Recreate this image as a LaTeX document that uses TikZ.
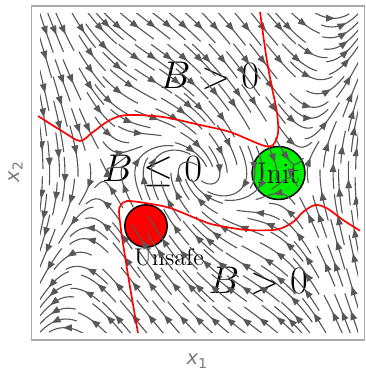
\documentclass[tikz,border=0pt]{standalone}
\usepackage{fontspec}
\usetikzlibrary{arrows.meta}
\newfontfamily\labelfont{DejaVu Sans}
\definecolor{initgreen}{RGB}{0,238,0}
\definecolor{unsafered}{RGB}{255,0,0}
\definecolor{streamgray}{RGB}{88,88,88}
\definecolor{framegray}{RGB}{170,170,170}
\definecolor{labelgray}{RGB}{120,120,120}

% streamlines of x1' = x2, x2' = -x1 + x1^3/3 - x2 on [-3,3]^2,
% pieces grown from seeds that spiral in from the border, 40x40 occupancy mask
\newcount\spx \newcount\spy \newcount\sdir
\newcount\xfirst \newcount\yfirst \newcount\xlast \newcount\ylast
\newcount\nsteps \newcount\nback \newcount\nsame
\newif\ifgo
\def\hstep{0.07}
\def\maxhalf{11}% steps each way
\def\cellscale{6.5}% (40-1)/6
\spx=0 \spy=0 \sdir=0
\xfirst=0 \yfirst=1 \xlast=39 \ylast=39

\newcommand{\cellfree}[2]{\expandafter\gdef\csname occ-#1-#2\endcsname{0}}
\newcommand{\cellmark}[2]{\expandafter\gdef\csname occ-#1-#2\endcsname{1}}

% one midpoint step of unit speed
\newcommand{\fieldstep}[1]{%
  \pgfmathsetmacro\flu{\sty}%
  \pgfmathsetmacro\flv{-(\stx)+(\stx)*(\stx)*(\stx)/3-(\sty)}%
  \pgfmathsetmacro\fls{veclen(\flu,\flv)}%
  \ifdim\fls pt<0.002pt \gofalse\else
    \pgfmathsetmacro\flmx{\stx+(#1)*0.5*\hstep*(\flu)/(\fls)}%
    \pgfmathsetmacro\flmy{\sty+(#1)*0.5*\hstep*(\flv)/(\fls)}%
    \pgfmathsetmacro\flu{\flmy}%
    \pgfmathsetmacro\flv{-(\flmx)+(\flmx)*(\flmx)*(\flmx)/3-(\flmy)}%
    \pgfmathsetmacro\fls{veclen(\flu,\flv)}%
    \ifdim\fls pt<0.002pt \gofalse\else
      \pgfmathsetmacro\stx{\stx+(#1)*\hstep*(\flu)/(\fls)}%
      \pgfmathsetmacro\sty{\sty+(#1)*\hstep*(\flv)/(\fls)}%
    \fi
  \fi}

\newcommand{\entercell}{%
  \ifnum\csname occ-\ci-\cj\endcsname=1 \gofalse
  \else
    \cellmark{\ci}{\cj}%
    \xdef\tcells{\unexpanded\expandafter{\tcells}\noexpand\cellfree{\ci}{\cj}}%
    \let\curi\ci \let\curj\cj \nsame=0
  \fi}
\newcommand{\samecell}{%
  \advance\nsame 1
  \ifnum\nsame>5 \gofalse\fi}
\newcommand{\newcell}{%
  \ifnum\ci=\curi\relax\ifnum\cj=\curj\relax\samecell\else\entercell\fi\else\entercell\fi}

\newcommand{\addpoint}[1]{%
  \advance\nsteps 1
  \ifnum#1>0
    \edef\trajF{\trajF(\stx,\sty)}%
    \expandafter\edef\csname ptF\the\nsteps\endcsname{(\stx,\sty)}%
  \else
    \edef\trajB{(\stx,\sty)\trajB}%
    \expandafter\edef\csname ptB\the\nsteps\endcsname{(\stx,\sty)}%
  \fi}

\newcommand{\growline}[1]{%
  \let\stx\xo \let\sty\yo
  \let\curi\ioo \let\curj\joo
  \nsteps=0 \nsame=0 \gotrue
  \loop
    \fieldstep{#1}%
    \ifgo
      \ifdim\stx pt>3pt \gofalse\fi
      \ifdim\stx pt<-3pt \gofalse\fi
      \ifdim\sty pt>3pt \gofalse\fi
      \ifdim\sty pt<-3pt \gofalse\fi
      \ifgo
        \pgfmathtruncatemacro\ci{floor(\cellscale*(\stx)+20)}%
        \pgfmathtruncatemacro\cj{floor(\cellscale*(\sty)+20)}%
        \newcell
        \ifgo\addpoint{#1}\fi
        \ifnum\nsteps<\maxhalf\else\gofalse\fi
      \else
        \addpoint{#1}%
      \fi
    \fi
  \ifgo\repeat}

% point number #1 along the whole line (0 = first backward point)
\newcommand{\ptat}[2]{%
  \ifnum#1<\nback
    \edef#2{\csname ptB\the\numexpr\nback-#1\relax\endcsname}%
  \else\ifnum#1=\nback
    \edef#2{(\xo,\yo)}%
  \else
    \edef#2{\csname ptF\the\numexpr#1-\nback\relax\endcsname}%
  \fi\fi}

\newcommand{\seedline}{%
  \pgfmathsetmacro\xo{-3+\ioo/\cellscale}%
  \pgfmathsetmacro\yo{-3+\joo/\cellscale}%
  \cellmark{\ioo}{\joo}%
  \xdef\tcells{\noexpand\cellfree{\ioo}{\joo}}%
  \def\trajF{}\def\trajB{}%
  \growline{-1}\nback=\nsteps
  \growline{1}\advance\nsteps\nback
  \ifnum\nsteps>8
    \edef\drawtraj{\noexpand\draw[stream] plot[smooth] coordinates {\trajB(\xo,\yo)\trajF};}%
    \drawtraj
    \edef\midk{\the\numexpr(\nsteps-1)/2\relax}%
    \ptat{\midk}\tailpt
    \ptat{\the\numexpr\midk+1\relax}\headpt
    \edef\drawhead{\noexpand\draw[streamhead] \tailpt -- \headpt;}%
    \drawhead
  \else
    \tcells
  \fi}

\newcommand{\spiralnext}{%
  \ifcase\sdir
    \global\advance\spx 1 \ifnum\spx<\xlast\else\global\advance\xlast -1 \global\sdir=1 \fi
  \or
    \global\advance\spy 1 \ifnum\spy<\ylast\else\global\advance\ylast -1 \global\sdir=2 \fi
  \or
    \global\advance\spx -1 \ifnum\spx>\xfirst\else\global\advance\xfirst 1 \global\sdir=3 \fi
  \or
    \global\advance\spy -1 \ifnum\spy>\yfirst\else\global\advance\yfirst 1 \global\sdir=0 \fi
  \fi}

\begin{document}
\begin{tikzpicture}[
    stream/.style={streamgray, line width=0.6pt, line join=round},
    streamhead/.style={streamgray, line width=0.6pt, -{Triangle[length=4.8pt,width=3.6pt]}},
    region/.style={circle, draw=black, line width=0.8pt, inner sep=0pt},
    zeroset/.style={unsafered, line width=0.9pt},
    bigtext/.style={font=\fontsize{20}{24}\selectfont, inner sep=0pt, anchor=base west},
    axlabel/.style={font=\labelfont\fontsize{10.5}{12}\selectfont, text=labelgray, inner sep=0pt}
]
    \useasboundingbox (-3.755,-3.698) rectangle (3.132,3.264);

    % Sets
    \node[region, fill=initgreen, minimum size=1cm, font=\fontsize{16}{19}\selectfont] (init) at (1.5,0) {Init};
    \node[region, fill=unsafered, minimum size=0.8cm] (unsafe) at (-1,-1) {};
    \node[font=\fontsize{13}{15}\selectfont, inner sep=0pt, anchor=base] (unsafelabel) at (-0.566,-1.736) {Unsafe};

    % Regions of B
    \node[bigtext] (upperpos) at (-0.745,1.585) {$B > 0$};
    \node[bigtext] (innerneg) at (-1.836,-0.164) {$B \leq 0$};
    \node[bigtext] (lowerpos) at (0.175,-2.27) {$B > 0$};

    % Streamlines
    \begin{scope}
        \clip (-3,-3) rectangle (3,3);
        \foreach \i in {0,...,39}{\foreach \j in {0,...,39}{\cellfree{\i}{\j}}}
        \foreach \k in {1,...,1600}{%
            \edef\ioo{\the\spx}\edef\joo{\the\spy}%
            \ifnum\csname occ-\ioo-\joo\endcsname=0 \seedline\fi
            \spiralnext}
    \end{scope}

    % B = 0
    \draw[zeroset] plot[smooth, tension=0.5] coordinates {(-3.038,1.075) (-2.566,0.779) (-2.245,0.604)
        (-2.0,0.774) (-1.679,1.0) (-1.358,1.094) (-0.679,1.057) (0.019,0.906) (0.585,0.774)
        (1.208,0.519) (1.396,0.528) (1.491,0.755) (1.472,1.132) (1.377,1.604) (1.302,2.0)
        (1.245,2.358) (1.151,3.038)};
    \draw[zeroset] plot[smooth, tension=0.5] coordinates {(-1.151,-3.019) (-1.302,-2.151) (-1.453,-1.208)
        (-1.509,-0.736) (-1.472,-0.604) (-1.358,-0.528) (-1.019,-0.566) (-0.547,-0.660)
        (0.019,-0.887) (0.302,-0.981) (0.906,-1.075) (1.472,-1.066) (1.774,-0.925) (1.962,-0.736)
        (2.189,-0.604) (2.415,-0.666) (2.717,-0.887) (3.038,-1.089)};

    % Axes
    \draw[framegray, line width=0.8pt] (-3.16,-3.15) rectangle (3.12,3.15);
    \node[axlabel] (xonelabel) at (-0.03,-3.55) {\textit{x}\textsubscript{1}};
    \node[axlabel, rotate=90] (xtwolabel) at (-3.46,0.03) {\textit{x}\textsubscript{2}};
\end{tikzpicture}
\end{document}
